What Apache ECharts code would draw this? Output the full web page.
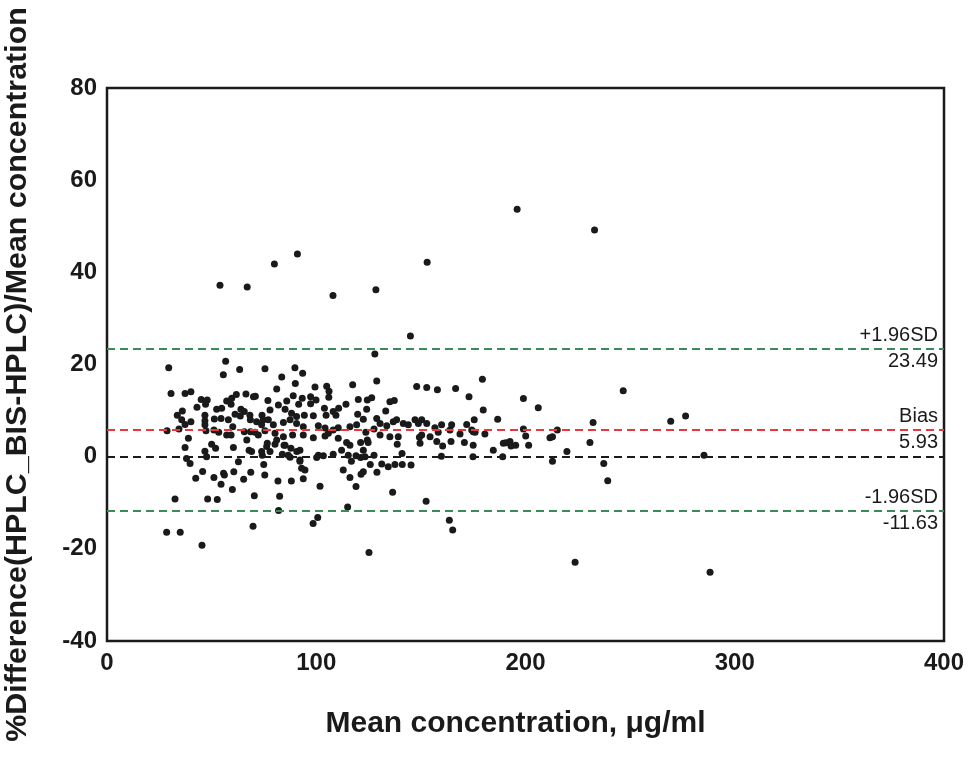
<!DOCTYPE html>
<html>

<head>
    <meta charset="utf-8">
    <title>Bland-Altman</title>
    <script src="https://cdn.jsdelivr.net/npm/echarts@6/dist/echarts.min.js"></script>
    <style>
        html,
        body {
            margin: 0;
            padding: 0;
            background: #fff;
        }

        #main {
            width: 970px;
            height: 760px;
        }
    </style>
</head>

<body>
    <div id="main"></div>
    <script>
        // mean concentration (x) and % difference (y)
        var meanConc = [
            54, 67, 80, 91, 108, 128.5, 153, 196, 233, 145, 128, 29.5, 56.7, 55.6, 63.4, 75.5, 89.8, 83.5, 90, 30.6,
            37.3, 40.1, 66.4, 70.9, 81.1, 89,
            45, 47.9, 43, 47.1, 52.4, 54.8, 57.2, 59.6, 61.8, 59.3, 64, 70, 36, 33.6, 35.7, 37.3, 40.1, 46.8, 46.8, 51.3,
            54.5, 58, 61.2, 63.7, 65.6, 68.3, 68.5, 28.7, 34.4, 46.8, 47.3, 51.1, 53.4, 57.2, 60.1, 59.3, 65.6, 68.6,
            38.9, 37.3, 50, 51.9, 46.8, 60.4, 67.9, 69.1, 38, 39.7, 47.6, 62.8, 45.7, 55.7, 60.6,
            42.4, 51.1, 54.5, 56.1, 59.9, 65.3, 68.7, 32.5, 48.1, 52.7, 70.4, 82.5, 82, 28.5, 35, 45.4, 69.8, 74.9, 75.4,
            81.7, 88.1, 66.8, 74.2, 76.3, 77.9, 81.1, 84.6, 83.8, 87.9, 87.5, 90.7, 92.2,
            93.5, 99.4, 105, 106.1, 106, 117.4, 128.9, 93.3, 97.3, 99.9, 85.9, 76.9, 81.9, 91.6, 97.3, 114.2, 120.1, 124.4,
            126.5, 103.9, 110.7, 77.9, 85.1, 74.1, 88.2, 90.6, 94.3, 98.6, 104.7, 108.1, 109.4, 124.1, 119.8, 122.5, 71.5,
            74.7, 77.1, 73.9, 79.5, 84.3, 87.5, 90.6, 93.8, 101, 104.2, 105.8, 108.1, 110.5, 116.1, 119.3, 123.7, 127.6,
            70.7, 72.3, 75.5, 80.3, 84.3, 88.7, 93.8, 98.6, 104.2, 110.5, 114.5, 116.1, 121.2, 124.4, 76.6, 80.3, 85.1,
            92.2, 73.9, 86.6, 92.2, 101, 108.1, 112.1, 115.3, 119, 122.5, 123.3, 127.6, 93, 94.6, 112.9, 122.5,
            93.8, 101.8, 100.7, 98.5, 116.1, 119, 121.4, 116.8, 125.8, 129, 131.3, 134.4, 137.6, 141.1, 145.3, 136.5,
            152.5, 115, 125.2, 163.6, 165.2, 174.9, 159.8, 141, 138.7, 121.2, 103.4, 100.2, 149.6, 154.4, 157.6, 160.4,
            164.4, 170.8, 175, 168.7, 175, 149.3, 124.8,
            148, 152.8, 157.9, 166.6, 179.4, 173, 135.2, 137.3, 133.2, 179.8, 175.5, 186.7, 128.9, 130.5, 133.7, 136.8,
            138.4, 141.6, 144, 147.2, 148.8, 150.4, 152.8, 156.7, 159.9, 164.7, 171.9, 174.3, 175.9, 163.9, 158.3, 150.4,
            130.5, 135.2, 139.2, 180.6, 184.6, 189.4, 189.1,
            190.7, 192.6, 193.1, 195.3, 199, 199, 200.1, 201.5, 206.1, 211.7, 212.9, 215.2, 212.9, 219.8, 230.8, 232.3,
            237.4, 239.3, 246.7, 269.4, 276.5, 285.3, 223.7, 288.2
        ];
        var pctDiff = [
            37.2, 36.8, 41.8, 44, 35, 36.2, 42.2, 53.7, 49.2, 26.2, 22.3, 19.3, 20.7, 17.8, 18.9, 19.1, 19.3, 17.3, 15.9, 13.7,
            13.7, 14.1, 13.6, 13.1, 14.7, 13.2,
            12.4, 12.3, 10.7, 11.4, 10.3, 10.5, 12.1, 12.7, 13.5, 11.4, 10.3, 13, 9.9, 9, 8, 7, 7.6, 9, 7.8, 8.2,
            8.3, 8, 9.2, 8.8, 9.8, 9, 8, 5.6, 6, 6.9, 5.6, 5.8, 5.3, 4.7, 6.5, 4.7, 5.4, 5.4,
            4, 2, 2.7, 1.8, 1.2, 2, 1.4, 1.1, -0.4, -1.5, 0, -1.1, -3.2, -3.6, -3.3,
            -4.7, -4.5, -6, -4, -7.1, -4.9, -3.4, -9.2, -9.2, -9.3, -8.5, -8.6, -11.7, -16.4, -16.4, -19.2, -15.1, -1.7, -4,
            -5.3, -5.3, 3.6, 0.3, 2.2, 1.1, 3.6, 2.5, 0.5, 1.8, -0.1, 1.1, -0.7,
            18.1, 15.1, 15.3, 14.2, 12.9, 15.6, 16.4, 12.7, 13, 12.3, 12.1, 12.2, 11.2, 11.4, 11.5, 11.4, 12.4, 12.3,
            12.8, 10.5, 10.5, 10.1, 10.3, 9, 9.4, 8.7, 9, 8.9, 9, 9.8, 9, 10.3, 9.2, 8.1, 7.6,
            8, 8, 6.9, 6.9, 7.4, 8, 7.2, 6.5, 6.7, 6.2, 5.1, 5.8, 6.3, 6.5, 6.9, 5.3, 6,
            5.3, 4.7, 5.6, 5.1, 4.3, 4.7, 4.7, 4.1, 4.5, 4, 3.1, 2.5, 3.1, 3.6, 2.9, 2.7, 2.5,
            1.4, 1.1, 0.3, -1, 0.3, 0.5, 1.4, 0.3, 0.2, 1.4, 0, 0.3, -2.5, -2.9, -2.9, -3.3,
            -4.8, -6.4, -13.2, -14.5, -4.5, -6.5, -3.8, -1, -1.7, -3.4, -1.6, -2.2, -1.7, -1.7, -1.8, -7.7,
            -9.7, -10.9, -20.8, -13.8, -15.9, 0, 0.1, 0.7, 2.7, -0.2, 0.2, -0.2, 2.9, 4.3, 3.3, 2.3,
            3.3, 3.1, 2.5, 4.9, 5.4, 4.2, 3.1,
            15.2, 15, 14.5, 14.8, 16.8, 13, 11.9, 12.2, 9.9, 10.1, 8, 8.1, 8.3, 7.2, 6.7, 7.6,
            8, 7.2, 6.9, 8, 7.2, 8, 7.2, 6.3, 6.9, 6.9, 7, 5.8, 5.3, 5.8, 5.3, 4.7,
            4.7, 4.3, 4.3, 4.9, 1.4, 2.9, 0,
            3, 3.3, 2.3, 2.5, 12.6, 6, 4.5, 2.5, 10.6, 4.1, 4.3, 5.8, -1, 1.1, 3.1, 7.4,
            -1.5, -5.2, 14.3, 7.7, 8.8, 0.3, -22.9, -25.1
        ];

        // reference lines: value, label above, label below, colour
        var refValues = [23.49, 5.93, 0, -11.63];
        var refTop = ['+1.96SD', 'Bias', '', '-1.96SD'];
        var refBottom = ['23.49', '5.93', '', '-11.63'];
        var refColors = ['#3b8b58', '#e8383d', '#1a1a1a', '#3b8b58'];

        var xTicks = [0, 100, 200, 300, 400];
        var yTicks = [-40, -20, 0, 20, 40, 60, 80];

        var points = [];
        for (var i = 0; i < meanConc.length; i++) {
            points.push([meanConc[i], pctDiff[i]]);
        }

        var lineData = [];
        for (var j = 0; j < refValues.length; j++) {
            var ls = { color: refColors[j], type: [8, 5], width: 2 };
            lineData.push({
                yAxis: refValues[j],
                lineStyle: ls,
                label: { show: refTop[j] !== '', formatter: refTop[j], position: 'insideEndTop', distance: [6, 3] }
            });
            lineData.push({
                yAxis: refValues[j],
                lineStyle: ls,
                label: { show: refBottom[j] !== '', formatter: refBottom[j], position: 'insideEndBottom', distance: [6, 3] }
            });
        }

        var myChart = echarts.init(document.getElementById('main'));
        var font = 'Liberation Sans, Arial, sans-serif';
        var option = {
            animation: false,
            grid: {
                left: 107,
                right: 26,
                top: 88,
                bottom: 119,
                outerBoundsMode: 'none',
                show: true,
                borderColor: '#1a1a1a',
                borderWidth: 2.5
            },
            xAxis: {
                type: 'value',
                min: xTicks[0],
                max: xTicks[xTicks.length - 1],
                interval: 100,
                name: 'Mean concentration, μg/ml',
                nameLocation: 'middle',
                nameGap: 68,
                nameTextStyle: { fontFamily: font, fontWeight: 'bold', fontSize: 30, color: '#1a1a1a', padding: [0, 20, 0, 0] },
                axisLine: { show: false },
                axisTick: { show: false },
                splitLine: { show: false },
                axisLabel: { fontFamily: font, fontWeight: 'bold', fontSize: 24, color: '#1a1a1a', margin: 10 }
            },
            yAxis: {
                type: 'value',
                min: yTicks[0],
                max: yTicks[yTicks.length - 1],
                interval: 20,
                name: '%Difference(HPLC_BIS-HPLC)/Mean concentration',
                nameLocation: 'middle',
                nameGap: 74,
                nameTextStyle: { fontFamily: font, fontWeight: 'bold', fontSize: 30.4, color: '#1a1a1a', padding: [0, 20, 0, 0] },
                axisLine: { show: false },
                axisTick: { show: false },
                splitLine: { show: false },
                axisLabel: { fontFamily: font, fontWeight: 'bold', fontSize: 24, color: '#1a1a1a', margin: 10 }
            },
            series: [{
                type: 'scatter',
                data: [],
                z: 1,
                markLine: {
                    silent: true,
                    symbol: 'none',
                    label: { fontFamily: font, fontSize: 20, color: '#1a1a1a' },
                    data: lineData
                }
            }, {
                type: 'scatter',
                z: 3,
                symbolSize: 7,
                itemStyle: { color: '#1a1a1a', opacity: 1 },
                data: points
            }]
        };
        myChart.setOption(option);
    </script>
</body>

</html>
